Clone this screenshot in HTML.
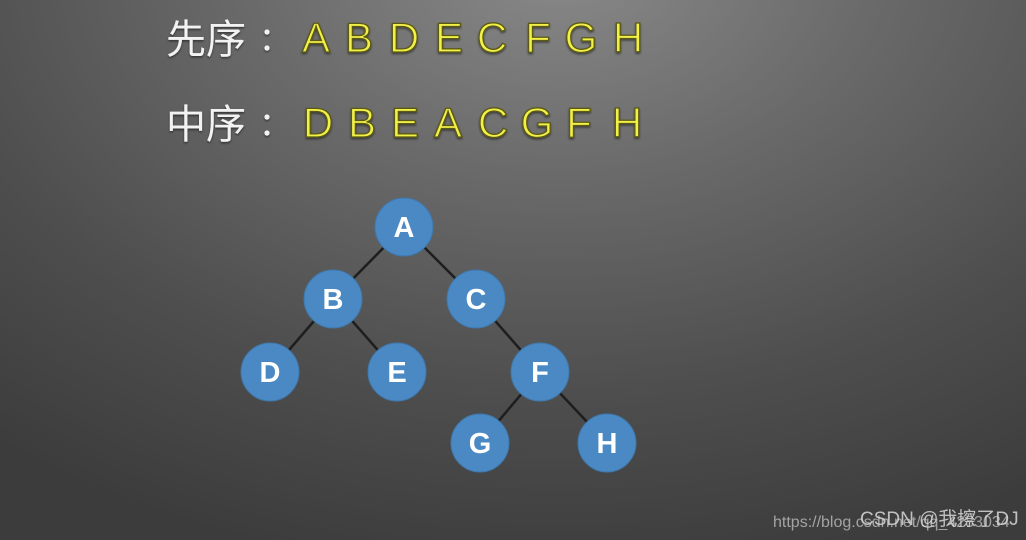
<!DOCTYPE html>
<html><head><meta charset="utf-8"><style>
html,body{margin:0;padding:0;width:1026px;height:540px;overflow:hidden}
body{background:radial-gradient(ellipse 900px 620px at 560px -40px,#8a8a8a 0%,#6a6a6a 35%,#4e4e4e 70%,#3c3c3c 100%)}
</style></head><body>
<svg width="1026" height="540" xmlns="http://www.w3.org/2000/svg" style="position:absolute;left:0;top:0">
<defs><filter id="sh" x="-10%" y="-10%" width="120%" height="130%"><feDropShadow dx="0" dy="1.5" stdDeviation="1" flood-color="#000" flood-opacity="0.5"/></filter></defs>
<g font-family="'Liberation Sans','Noto Sans CJK SC',sans-serif" font-size="40" fill="#f2f2f2" filter="url(#sh)">
<text x="166" y="53">先序</text>
<text x="166" y="138">中序</text>
<circle cx="267" cy="32" r="2.6"/><circle cx="267" cy="48" r="2.6"/>
<circle cx="267" cy="117" r="2.6"/><circle cx="267" cy="133" r="2.6"/>
</g>
<g font-family="'Liberation Sans',sans-serif" font-size="42" fill="#f3f04a" stroke="#5a5a15" stroke-width="1.3" text-anchor="middle" filter="url(#sh)">
<text x="316" y="52">A</text><text x="359" y="52">B</text><text x="404" y="52">D</text><text x="449" y="52">E</text>
<text x="492" y="52">C</text><text x="538" y="52">F</text><text x="581" y="52">G</text><text x="628" y="52">H</text>
<text x="318" y="137">D</text><text x="362" y="137">B</text><text x="405" y="137">E</text><text x="448" y="137">A</text>
<text x="493" y="137">C</text><text x="537" y="137">G</text><text x="579" y="137">F</text><text x="627" y="137">H</text>
</g>
<g stroke="#1e1e1e" stroke-width="2.5">
<line x1="404" y1="227" x2="333" y2="299"/><line x1="404" y1="227" x2="476" y2="299"/>
<line x1="333" y1="299" x2="270" y2="372"/><line x1="333" y1="299" x2="397" y2="372"/>
<line x1="476" y1="299" x2="540" y2="372"/>
<line x1="540" y1="372" x2="480" y2="443"/><line x1="540" y1="372" x2="607" y2="443"/>
</g>
<g fill="#4a89c3" stroke="#3f78ad" stroke-width="1">
<circle cx="404" cy="227" r="29"/><circle cx="333" cy="299" r="29"/><circle cx="476" cy="299" r="29"/>
<circle cx="270" cy="372" r="29"/><circle cx="397" cy="372" r="29"/><circle cx="540" cy="372" r="29"/>
<circle cx="480" cy="443" r="29"/><circle cx="607" cy="443" r="29"/>
</g>
<g font-family="'Liberation Sans',sans-serif" font-weight="bold" font-size="29" fill="#ffffff" text-anchor="middle">
<text x="404" y="237">A</text><text x="333" y="309">B</text><text x="476" y="309">C</text>
<text x="270" y="382">D</text><text x="397" y="382">E</text><text x="540" y="382">F</text>
<text x="480" y="453">G</text><text x="607" y="453">H</text>
</g>
<text x="773" y="527" font-family="'Liberation Sans',sans-serif" font-size="16" fill="#bdbdbd" opacity="0.8">https://blog.csdn.net/qq_4283034</text>
<text x="860" y="525" font-family="'Liberation Sans','Noto Sans CJK SC',sans-serif" font-size="19" fill="#d8d8d8" opacity="0.85">CSDN @我擦了DJ</text>
</svg>
</body></html>
